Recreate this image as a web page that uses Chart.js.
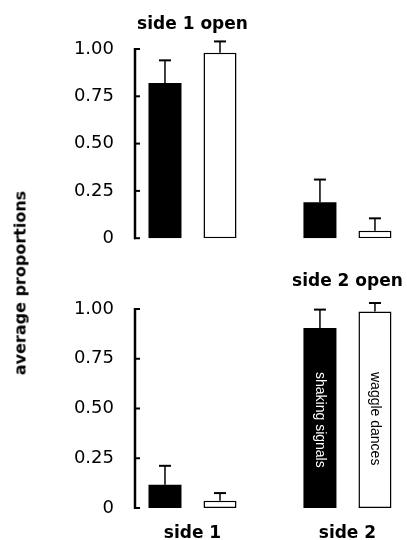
<!DOCTYPE html>
<html>
<head>
<meta charset="utf-8">
<script src="https://cdn.jsdelivr.net/npm/chart.js@4.4.1/dist/chart.umd.min.js"></script>
<style>
  html, body { margin: 0; padding: 0; background: #fff; }
  #wrap { position: relative; width: 407px; height: 540px; overflow: hidden; }
  .panel { position: absolute; left: 0; width: 407px; height: 270px; }
  #top { top: 0; }
  #bottom { top: 270px; }
  #ytitle {
    position: absolute; left: 20px; top: 283px;
    transform: translate(-50%, -50%) rotate(-90deg);
    font: bold 16px 'DejaVu Sans', sans-serif; color: #000; white-space: nowrap;
  }
</style>
</head>
<body>
<div id="wrap">
  <div class="panel" id="top"><canvas id="chartTop" width="407" height="270"></canvas></div>
  <div class="panel" id="bottom"><canvas id="chartBottom" width="407" height="270"></canvas></div>
  <div id="ytitle">average proportions</div>
</div>
<script>
/* ==================== Data ==================== */
const categories = ['side 1', 'side 2'];
const seriesNames = ['shaking signals', 'waggle dances'];
const panelTitles = ['side 1 open', 'side 2 open'];
const yTicks = [0, 0.25, 0.5, 0.75, 1];

// top panel: side 1 open
const side1OpenShaking = [0.82, 0.19];
const side1OpenShakingErr = [0.12, 0.12];
const side1OpenWaggle = [0.98, 0.04];
const side1OpenWaggleErr = [0.06, 0.065];

// bottom panel: side 2 open
const side2OpenShaking = [0.117, 0.905];
const side2OpenShakingErr = [0.095, 0.092];
const side2OpenWaggle = [0.037, 0.988];
const side2OpenWaggleErr = [0.038, 0.042];

/* ==================== Axis range ==================== */
const xMin = 0.629;
const xMax = 2.352;

Chart.defaults.font.family = "'DejaVu Sans', sans-serif";
Chart.defaults.color = '#000';

/* ==================== Plugins ==================== */
// y axis drawn as a bracket with inward ticks
const axisBracket = {
    id: 'axisBracket',
    afterDraw(chart) {
        const { ctx, chartArea, scales: { y } } = chart;
        const x0 = chartArea.left;
        ctx.save();
        ctx.strokeStyle = '#000';
        ctx.lineWidth = 2.5;
        ctx.beginPath();
        ctx.moveTo(x0, y.getPixelForValue(0) + 1);
        ctx.lineTo(x0, y.getPixelForValue(1) - 1);
        ctx.stroke();
        ctx.lineWidth = 2;
        yTicks.forEach(v => {
            const py = y.getPixelForValue(v);
            ctx.beginPath();
            ctx.moveTo(x0 - 1, py);
            ctx.lineTo(x0 + 5, py);
            ctx.stroke();
        });
        ctx.restore();
    }
};

// upper error bars
const errorBars = {
    id: 'errorBars',
    afterDatasetsDraw(chart) {
        const { ctx, scales: { y } } = chart;
        ctx.save();
        ctx.strokeStyle = '#000';
        chart.data.datasets.forEach((ds, i) => {
            chart.getDatasetMeta(i).data.forEach((bar, j) => {
                const yTop = y.getPixelForValue(ds.data[j].y + ds.errors[j]);
                ctx.lineWidth = 1.5;
                ctx.beginPath();
                ctx.moveTo(bar.x, bar.y);
                ctx.lineTo(bar.x, yTop);
                ctx.stroke();
                ctx.lineWidth = 2;
                ctx.beginPath();
                ctx.moveTo(bar.x - 6, yTop);
                ctx.lineTo(bar.x + 6, yTop);
                ctx.stroke();
            });
        });
        ctx.restore();
    }
};

// title over one bar group
const groupTitle = {
    id: 'groupTitle',
    afterDraw(chart, args, opts) {
        if (!opts.text) return;
        const { ctx, scales: { x } } = chart;
        ctx.save();
        ctx.font = "bold 17px 'DejaVu Sans'";
        ctx.fillStyle = '#000';
        ctx.textAlign = 'center';
        ctx.textBaseline = 'alphabetic';
        ctx.fillText(opts.text, x.getPixelForValue(opts.category + 1), opts.baseline);
        ctx.restore();
    }
};

// series names written inside the bars of one group
const barLabels = {
    id: 'barLabels',
    afterDatasetsDraw(chart, args, opts) {
        if (opts.category === undefined) return;
        const { ctx, chartArea } = chart;
        chart.data.datasets.forEach((ds, i) => {
            const bar = chart.getDatasetMeta(i).data[opts.category];
            ctx.save();
            ctx.translate(bar.x, chartArea.top + opts.offset);
            ctx.rotate(Math.PI / 2);
            ctx.font = "14px 'Liberation Sans'";
            ctx.fillStyle = ds.labelColor;
            ctx.textAlign = 'left';
            ctx.textBaseline = 'middle';
            ctx.fillText(ds.label, 0, 0);
            ctx.restore();
        });
    }
};

/* ==================== Panels ==================== */
function toPoints(values) {
    return values.map((v, i) => ({ x: i + 1, y: v }));
}

function makePanel(canvasId, shaking, shakingErr, waggle, waggleErr, cfg) {
    return new Chart(document.getElementById(canvasId), {
        type: 'bar',
        data: {
            datasets: [{
                label: seriesNames[0],
                data: toPoints(shaking),
                errors: shakingErr,
                backgroundColor: '#000',
                borderWidth: 0,
                labelColor: '#fff'
            }, {
                label: seriesNames[1],
                data: toPoints(waggle),
                errors: waggleErr,
                backgroundColor: '#fff',
                borderColor: '#000',
                borderWidth: 1.5,
                borderSkipped: false,
                labelColor: '#000'
            }]
        },
        options: {
            responsive: false,
            animation: false,
            categoryPercentage: 0.71,
            barPercentage: 0.6,
            layout: { padding: cfg.padding },
            plugins: {
                legend: { display: false },
                tooltip: { enabled: false },
                groupTitle: cfg.title,
                barLabels: cfg.barLabels || {}
            },
            scales: {
                x: {
                    type: 'linear',
                    offset: false,
                    min: xMin,
                    max: xMax,
                    bounds: 'data',
                    afterBuildTicks: s => { s.ticks = categories.map((c, i) => ({ value: i + 1 })); },
                    afterFit: s => { s.height = cfg.xHeight; },
                    ticks: {
                        display: cfg.showX,
                        autoSkip: false,
                        maxRotation: 0,
                        padding: 15,
                        font: { size: 17, weight: 'bold' },
                        callback: (v, i) => categories[i]
                    },
                    grid: { display: false, drawTicks: false, offset: false },
                    border: { display: false }
                },
                y: {
                    min: 0,
                    max: 1,
                    afterBuildTicks: s => { s.ticks = yTicks.map(v => ({ value: v })); },
                    afterFit: s => { s.width = 135; },
                    ticks: {
                        padding: 21,
                        font: { size: 18 },
                        callback: v => v === 0 ? '0' : v.toFixed(2)
                    },
                    grid: { display: false, drawTicks: false },
                    border: { display: false }
                }
            }
        },
        plugins: [axisBracket, errorBars, groupTitle, barLabels]
    });
}

makePanel('chartTop', side1OpenShaking, side1OpenShakingErr, side1OpenWaggle, side1OpenWaggleErr, {
    padding: { top: 49, bottom: 23, left: 0, right: 5 },
    xHeight: 0,
    showX: false,
    title: { text: panelTitles[0], category: 0, baseline: 29 }
});

makePanel('chartBottom', side2OpenShaking, side2OpenShakingErr, side2OpenWaggle, side2OpenWaggleErr, {
    padding: { top: 39, bottom: 0, left: 0, right: 5 },
    xHeight: 32,
    showX: true,
    title: { text: panelTitles[1], category: 1, baseline: 15.5 },
    barLabels: { category: 1, offset: 63 }
});
</script>
</body>
</html>
